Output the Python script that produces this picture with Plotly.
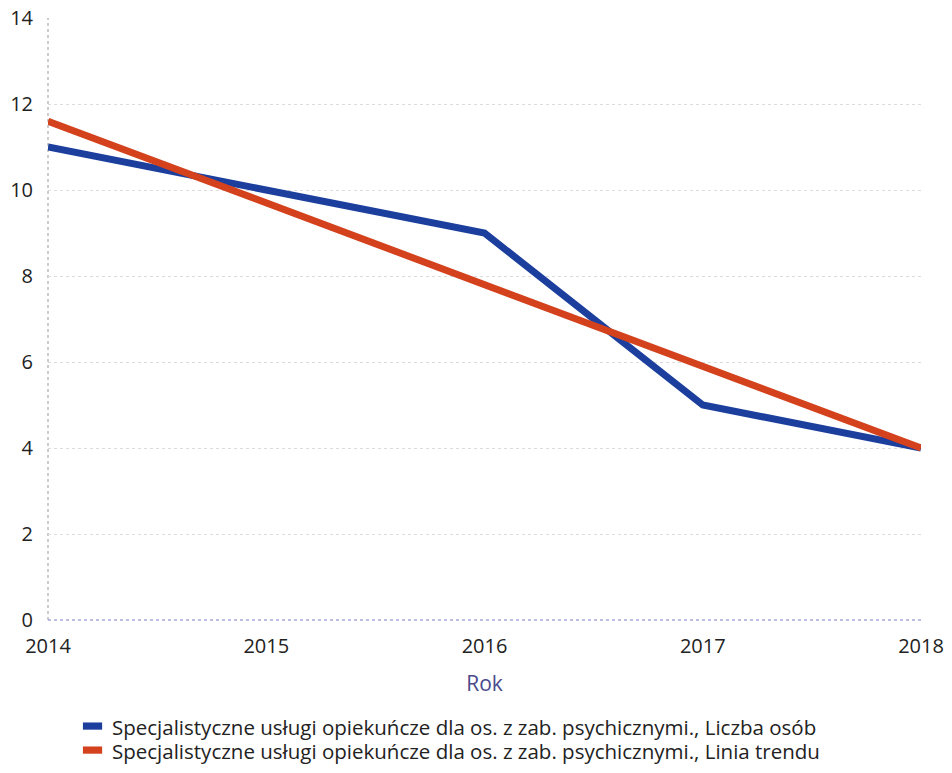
import plotly.graph_objects as go

lata = [2014, 2015, 2016, 2017, 2018]
liczba_osob = [11, 10, 9, 5, 4]
linia_trendu = [11.6, 9.7, 7.8, 5.9, 4.0]

nazwa_osoby = "Specjalistyczne usługi opiekuńcze dla os. z zab. psychicznymi., Liczba osób"
nazwa_trend = "Specjalistyczne usługi opiekuńcze dla os. z zab. psychicznymi., Linia trendu"

kolory = ["#1c3f9e", "#d3411d"]

fig = go.Figure()

fig.add_trace(go.Scatter(
    x=lata, y=liczba_osob, mode="lines", name=nazwa_osoby,
    line=dict(color=kolory[0], width=7), showlegend=False,
))
fig.add_trace(go.Scatter(
    x=lata, y=linia_trendu, mode="lines", name=nazwa_trend,
    line=dict(color=kolory[1], width=7), showlegend=False,
))

# osie kropkowane (lewa szara, dolna niebieskawa)
fig.add_shape(type="line", xref="paper", yref="paper", x0=0, x1=0, y0=0, y1=1,
              line=dict(color="#9a9a9a", width=1, dash="dot"), layer="below")
fig.add_shape(type="line", xref="paper", yref="paper", x0=0, x1=1, y0=0, y1=0,
              line=dict(color="#7c7cc4", width=1, dash="dot"), layer="below")

# legenda rysowana ręcznie - ciasne odstępy między wierszami jak w oryginale
# (wysokość obszaru wykresu 602 px, szerokość 873 px)
for i, (nazwa, kol) in enumerate(zip([nazwa_osoby, nazwa_trend], kolory)):
    yc = -0.1777 - i * 0.0399
    fig.add_shape(type="rect", xref="paper", yref="paper",
                  x0=0.040, x1=0.062, y0=yc - 0.0045, y1=yc + 0.0075,
                  line=dict(width=0), fillcolor=kol)
    fig.add_annotation(text=nazwa, xref="paper", yref="paper",
                       x=0.071, y=yc, xanchor="left", yanchor="middle",
                       showarrow=False, font=dict(size=20.5, color="#222222"))

# strona ma 8 px marginesu body, więc figura jest o 16 px mniejsza od okna
fig.update_layout(
    width=936, height=757,
    margin=dict(l=40, r=23, t=10, b=145),
    paper_bgcolor="white",
    plot_bgcolor="white",
    font=dict(family="Open Sans", size=20, color="#222222"),
    showlegend=False,
    xaxis=dict(
        range=[2014, 2018], tickvals=lata, ticktext=[str(r) for r in lata],
        showgrid=False, zeroline=False, showline=False,
        title=dict(text="Rok", font=dict(size=21, color="#4a4a8c"), standoff=18),
        ticks="", ticklabelstandoff=12, automargin=False,
        ticklabeloverflow="allow",
    ),
    yaxis=dict(
        range=[0, 14], dtick=2,
        showgrid=True, gridcolor="#dcdcdc", griddash="dot", gridwidth=1,
        zeroline=False, showline=False,
        ticks="", ticklabelstandoff=14, automargin=False,
        ticklabeloverflow="allow",
    ),
)

fig.write_html("out.html")
